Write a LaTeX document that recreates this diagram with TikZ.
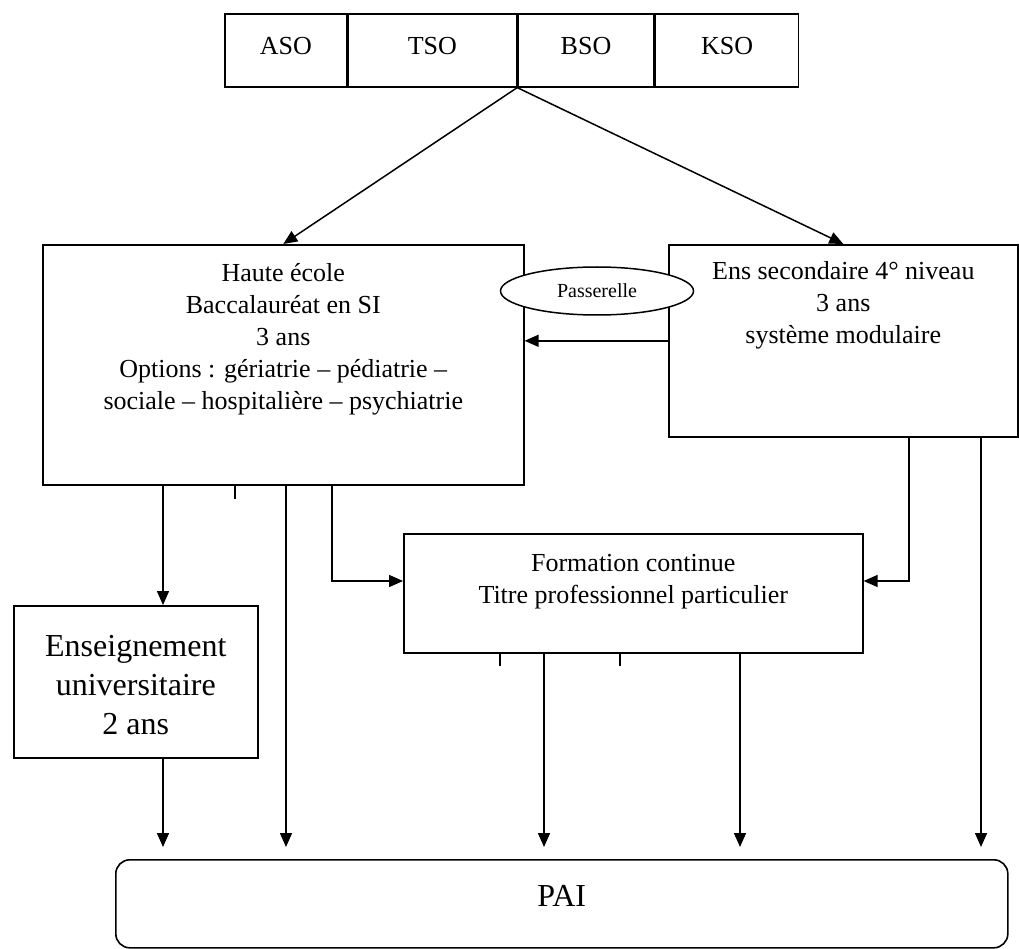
\documentclass[tikz,border=0pt]{standalone}
\usepackage{fontspec}
\setmainfont{Liberation Serif}
\usetikzlibrary{shapes.geometric, positioning, arrows.meta}
\tikzset{
    flow box/.style = {draw, line width=1.6pt, inner sep=0pt, align=center, anchor=north west, font=\fontsize{26}{32}\selectfont},
    big box/.style = {flow box, font=\fontsize{32}{39}\selectfont},
    table cell/.style = {flow box, text height=40.5pt, text depth=32.5pt},
}
\tikzset{
    flow edge/.style = {draw, line width=1.5pt, -{Triangle[length=14pt, width=12pt]}},
    stub/.style = {draw, line width=1.5pt, -},
}

\begin{document}
\begin{tikzpicture}[x=1pt, y=-1pt]
        \useasboundingbox (0,0) rectangle (1019,949);
        \node[table cell, minimum width=122] (aso) at (224,13) {ASO};
        \node[table cell, minimum width=168, right=0pt of aso] (tso) {TSO};
        \node[table cell, minimum width=136, right=0pt of tso] (bso) {BSO};
        \node[table cell, minimum width=143, right=0pt of bso] (kso) {KSO};
        \node[flow box, minimum width=481, text height=164.5pt, text depth=75.5pt] (haute) at (42,244) {Haute école\\Baccalauréat en SI\\3 ans\\Options : gériatrie – pédiatrie –\\sociale – hospitalière – psychiatrie};
        \node[flow box, minimum width=349, text height=98.5pt, text depth=93.5pt] (ens) at (668,244) {Ens secondaire 4° niveau\\3 ans\\système modulaire};
        \node[flow box, minimum width=459, text height=69.5pt, text depth=49.5pt] (form) at (403,533) {Formation continue\\Titre professionnel particulier};
        \node[big box, minimum width=244, text height=129pt, text depth=23pt] (univ) at (13,605) {Enseignement\\universitaire\\2 ans};
        \node[big box, rounded corners=14pt, minimum width=892, text height=47pt, text depth=41pt] (pai) at (115,859) {PAI};
        \node[draw, ellipse, fill=white, line width=1.5pt, minimum width=193, minimum height=48, inner sep=0pt, font=\fontsize{20}{24}\selectfont] (pass) at (597,291) {Passerelle};
        \draw[flow edge] (tso.south east) to (haute.north);
        \draw[flow edge] (tso.south east) to (ens.north);
        \draw[flow edge] (ens.west) to (haute.east |- ens.west);
        \draw[flow edge] (haute.south -| 163,0) to (univ.north -| 163,0);
        \draw[stub] (haute.south -| 235,0) -- ++(0,13);
        \draw[flow edge, shorten >=12pt] (haute.south -| 286,0) to (pai.north -| 286,0);
        \draw[flow edge] (haute.south -| 332,0) |- (form.west |- 0,581);
        \draw[flow edge] (ens.south -| 909,0) |- (form.east |- 0,581);
        \draw[flow edge, shorten >=12pt] (ens.south -| 981,0) to (pai.north -| 981,0);
        \draw[flow edge, shorten >=12pt] (univ.south -| 163,0) to (pai.north -| 163,0);
        \draw[stub] (form.south -| 500,0) -- ++(0,12);
        \draw[stub] (form.south -| 620,0) -- ++(0,12);
        \draw[flow edge, shorten >=12pt] (form.south -| 544,0) to (pai.north -| 544,0);
        \draw[flow edge, shorten >=12pt] (form.south -| 740,0) to (pai.north -| 740,0);
    \end{tikzpicture}
\end{document}
